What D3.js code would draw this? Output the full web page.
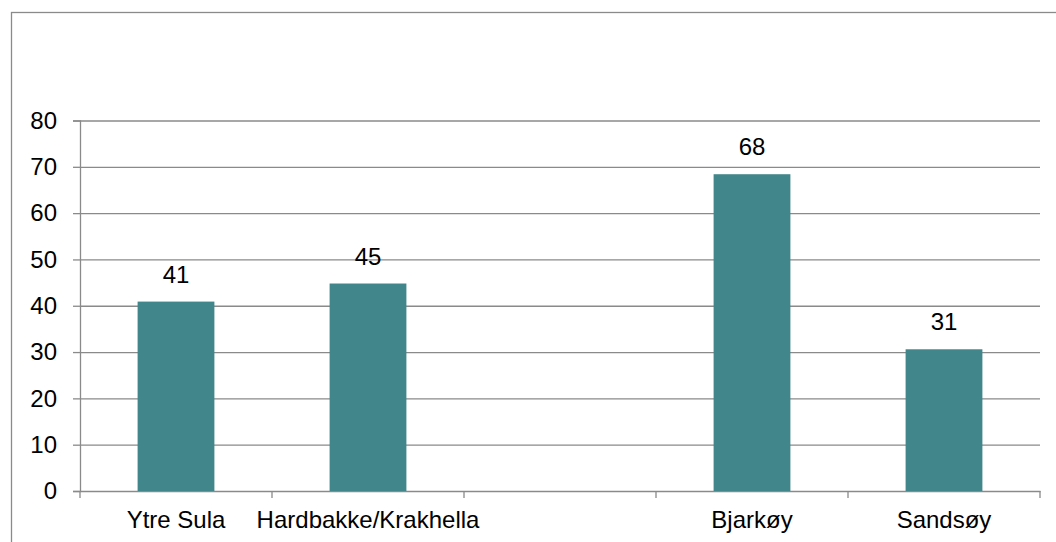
<!DOCTYPE html>
<html>
<head>
<meta charset="utf-8">
<script src="https://cdn.jsdelivr.net/npm/d3@7"></script>
<style>
  html, body { margin: 0; padding: 0; background: #fff; }
  svg { display: block; font-family: "Liberation Sans", Arial, sans-serif; }
</style>
</head>
<body>
<div id="chart"></div>
<script>
// Stolpediagram, fire stasjoner

const categories = ["Ytre Sula", "Hardbakke/Krakhella", "", "Bjarkøy", "Sandsøy"];
const values = [40.9, 44.8, null, 68.4, 30.6];
const yTicks = [0, 10, 20, 30, 40, 50, 60, 70, 80];

const width = 1056;
const height = 542;
const margin = { top: 120.5, right: 16, bottom: 51, left: 80 };
const innerWidth = width - margin.left - margin.right;
const innerHeight = height - margin.top - margin.bottom;
const gridColor = "#8a8a8a";

const svg = d3.select("#chart").append("svg")
  .attr("width", width)
  .attr("height", height);

// ramme rundt diagrammet
svg.append("rect")
  .attr("x", 11.5).attr("y", 12.5)
  .attr("width", 1200).attr("height", 700)
  .attr("fill", "none")
  .attr("stroke", gridColor)
  .attr("stroke-width", 1.3);

const g = svg.append("g")
  .attr("transform", `translate(${margin.left},${margin.top})`);

// Skalaer
const xCat = d3.scaleBand()
  .domain(d3.range(categories.length))
  .range([0, innerWidth])
  .padding(0);

const xBar = d3.scaleBand()
  .domain(d3.range(categories.length))
  .range([0, innerWidth])
  .paddingInner(0.6)
  .paddingOuter(0.3);

const y = d3.scaleLinear()
  .domain([0, 80])
  .range([innerHeight, 0]);

// Rutenett + y-akse
const yAxis = g.append("g")
  .call(d3.axisLeft(y).tickValues(yTicks).tickSize(7).tickPadding(16));
yAxis.select(".domain").attr("stroke", gridColor).attr("stroke-width", 1.3);
yAxis.selectAll(".tick line").attr("stroke", gridColor).attr("stroke-width", 1.3);
yAxis.selectAll(".tick text")
  .attr("font-size", 24)
  .attr("font-family", "Liberation Sans, Arial, sans-serif")
  .attr("fill", "#000");

const grid = g.append("g")
  .call(d3.axisLeft(y).tickValues(yTicks.filter(d => d > 0)).tickSize(-innerWidth).tickFormat(""));
grid.select(".domain").remove();
grid.selectAll(".tick line").attr("stroke", gridColor).attr("stroke-width", 1.3);

// x-akse
const xAxis = g.append("g")
  .attr("transform", `translate(0,${innerHeight})`)
  .call(d3.axisBottom(xCat).tickSize(0).tickPadding(20).tickFormat(i => categories[i]));
xAxis.select(".domain").attr("stroke", gridColor).attr("stroke-width", 1.3);
xAxis.selectAll(".tick text")
  .attr("font-size", 24)
  .attr("font-family", "Liberation Sans, Arial, sans-serif")
  .attr("fill", "#000");

// delestreker mellom kategoriene
const bounds = d3.range(categories.length).map(i => xCat(i)).concat([xCat.range()[1]]);
g.append("g").selectAll("line")
  .data(bounds)
  .join("line")
  .attr("x1", d => d).attr("x2", d => d)
  .attr("y1", innerHeight).attr("y2", innerHeight + 7)
  .attr("stroke", gridColor)
  .attr("stroke-width", 1.3);

// Stolper
const data = categories.map((c, i) => ({ i, c, v: values[i] })).filter(d => d.v != null);

g.append("g").selectAll("rect")
  .data(data)
  .join("rect")
  .attr("x", d => xBar(d.i))
  .attr("y", d => y(d.v))
  .attr("width", xBar.bandwidth())
  .attr("height", d => innerHeight - y(d.v))
  .attr("fill", "#41868a");

// Verdier over stolpene
g.append("g").selectAll("text")
  .data(data)
  .join("text")
  .attr("x", d => xBar(d.i) + xBar.bandwidth() / 2)
  .attr("y", d => y(d.v) - 19)
  .attr("text-anchor", "middle")
  .attr("font-size", 24)
  .attr("fill", "#000")
  .text(d => d3.format(".0f")(d.v));
</script>
</body>
</html>
